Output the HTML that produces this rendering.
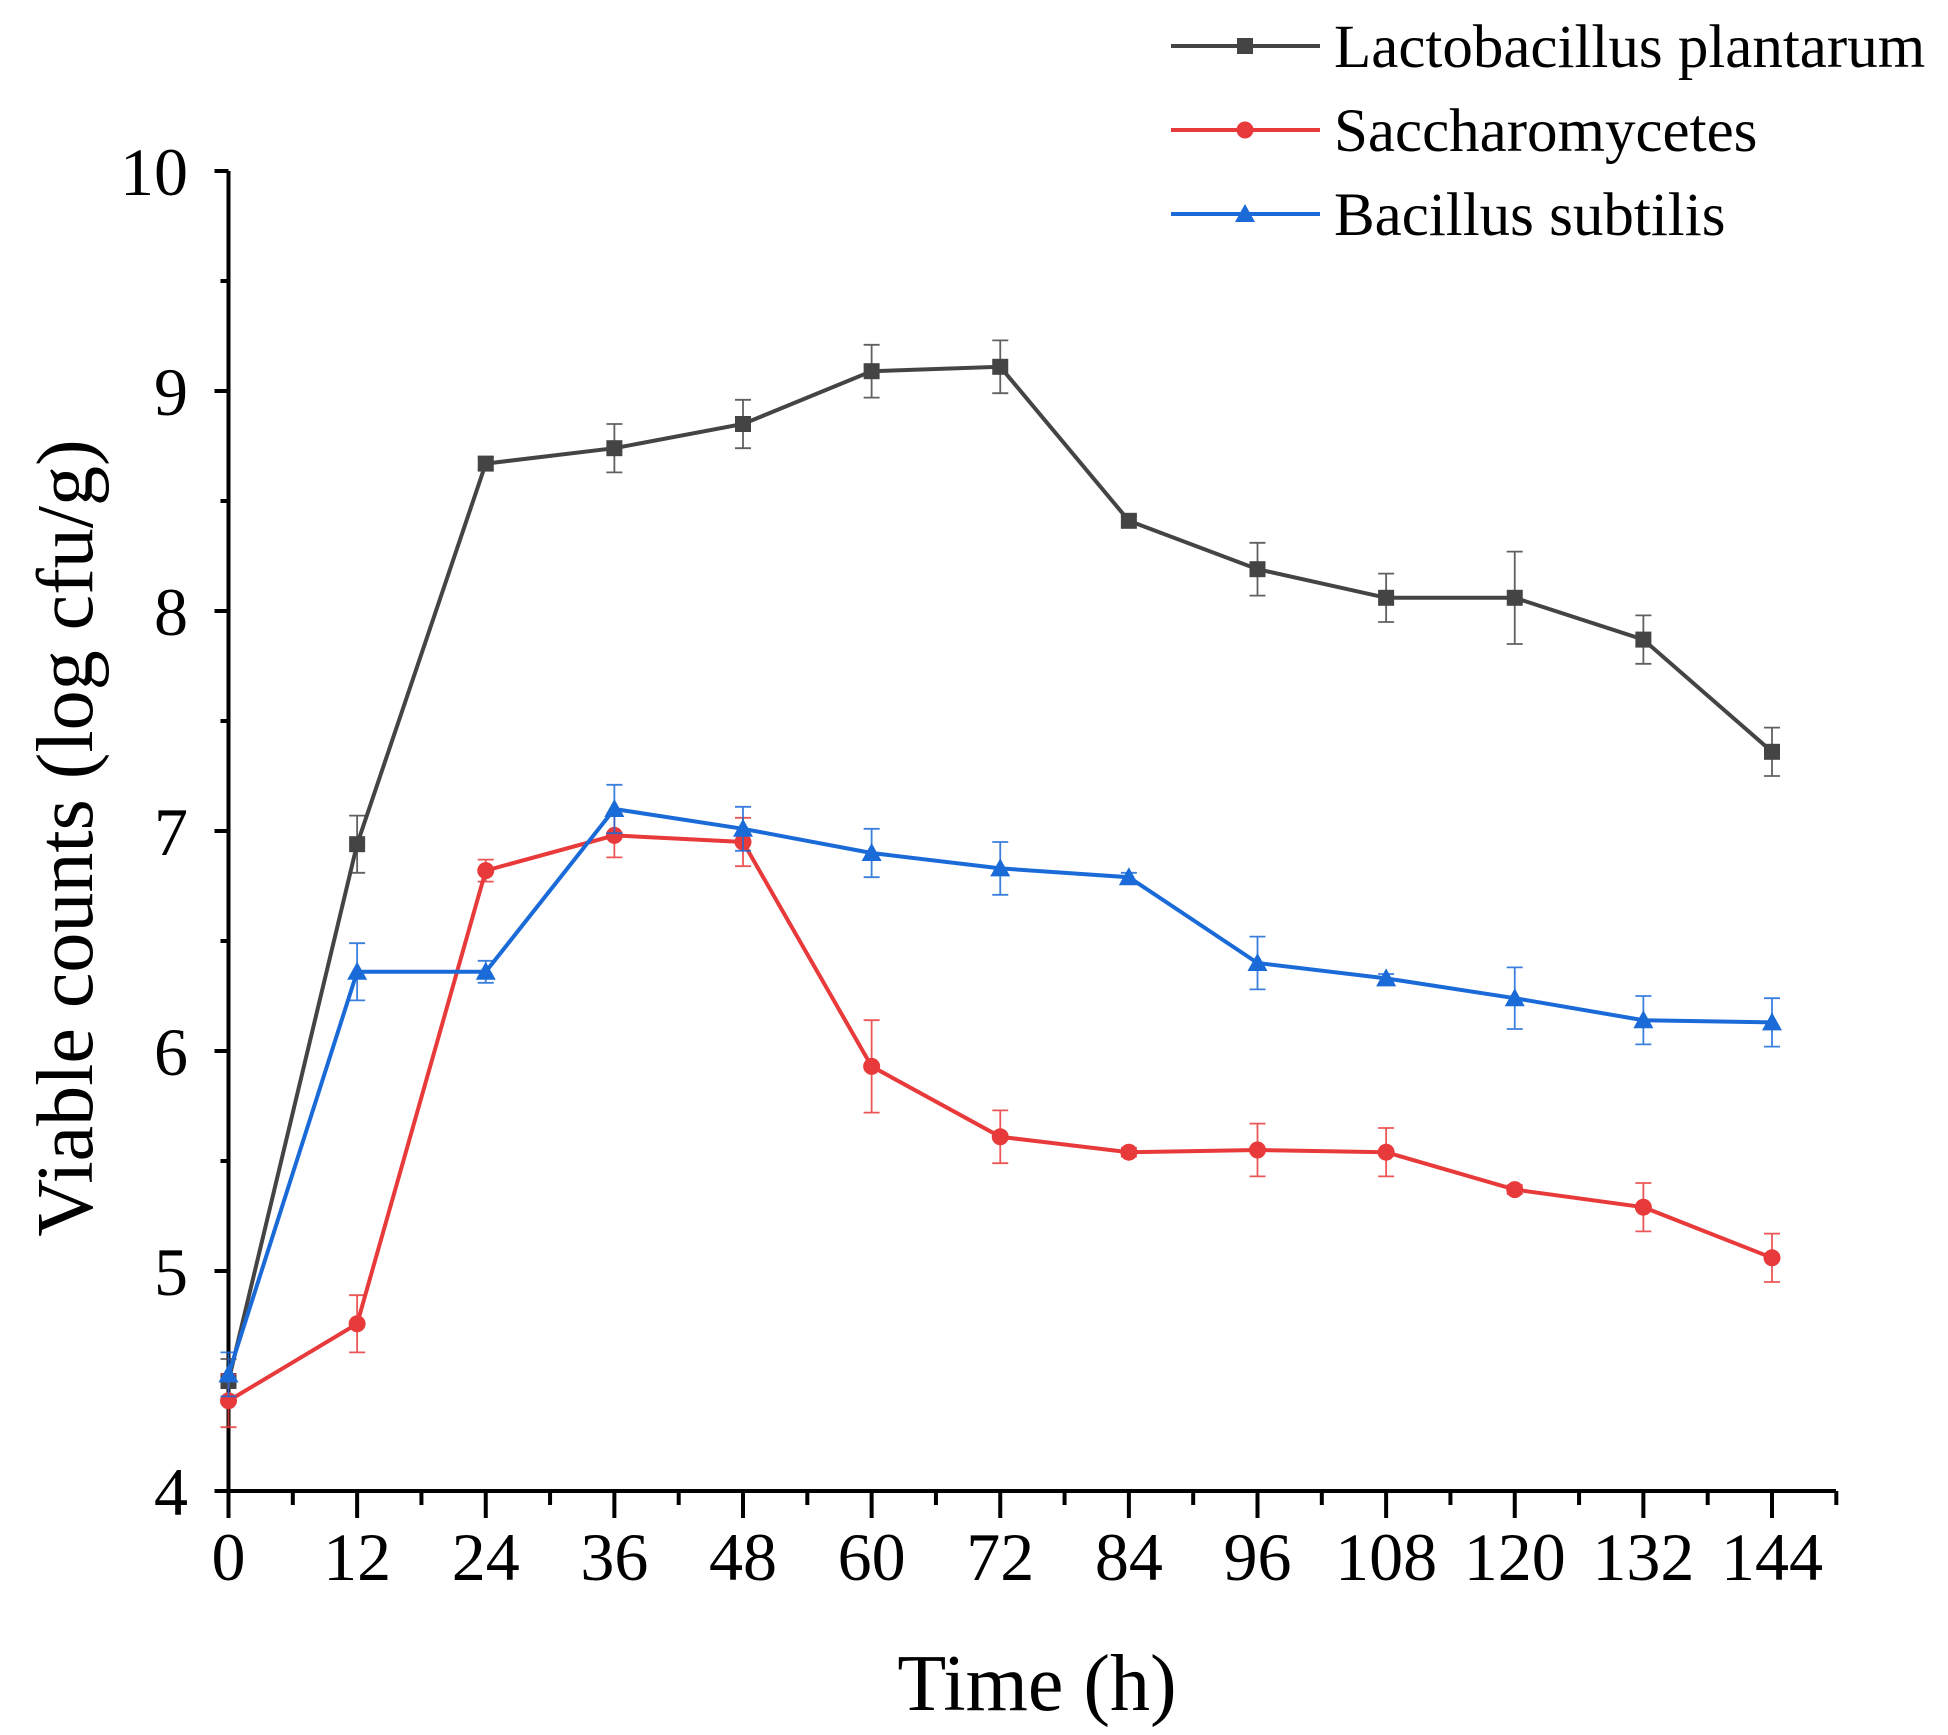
<!DOCTYPE html>
<html><head><meta charset="utf-8"><style>
html,body{margin:0;padding:0;background:#fff;}
svg{display:block;font-family:"Liberation Serif",serif;}
</style></head><body>
<svg id="chart" width="1948" height="1735" viewBox="0 0 1948 1735" xmlns="http://www.w3.org/2000/svg">
<g id="axes"></g>
<g id="series"></g>
<g id="legend"></g>
<text transform="translate(92,838) rotate(-90)" text-anchor="middle" font-size="80">Viable counts (log cfu/g)</text>
<text x="1037" y="1710" text-anchor="middle" font-size="80">Time (h)</text>
</svg>
<script>
const times = [0,12,24,36,48,60,72,84,96,108,120,132,144];
const lactoValues = [4.5,6.94,8.67,8.74,8.85,9.09,9.11,8.41,8.19,8.06,8.06,7.87,7.36];
const lactoErrors = [0.1,0.13,0.03,0.11,0.11,0.12,0.12,0.02,0.12,0.11,0.21,0.11,0.11];
const sacchValues = [4.41,4.76,6.82,6.98,6.95,5.93,5.61,5.54,5.55,5.54,5.37,5.29,5.06];
const sacchErrors = [0.12,0.13,0.05,0.1,0.11,0.21,0.12,0.02,0.12,0.11,0.02,0.11,0.11];
const bacValues = [4.53,6.36,6.36,7.1,7.01,6.9,6.83,6.79,6.4,6.33,6.24,6.14,6.13];
const bacErrors = [0.1,0.13,0.05,0.11,0.1,0.11,0.12,0.02,0.12,0.02,0.14,0.11,0.11];
const xTicks = [0,12,24,36,48,60,72,84,96,108,120,132,144];
const yTicks = [4,5,6,7,8,9,10];
const seriesNames = ["Lactobacillus plantarum","Saccharomycetes","Bacillus subtilis"];

const NS="http://www.w3.org/2000/svg";
const X0=228.5, X1=1772, Y4=1491, Y10=171;
const xs=v=>X0+(v/144)*(X1-X0);
const ys=v=>Y4-(v-4)/6*(Y4-Y10);
function mk(tag,attrs,parent){const e=document.createElementNS(NS,tag);for(const k in attrs)e.setAttribute(k,attrs[k]);parent.appendChild(e);return e;}
const axes=document.getElementById('axes');
const ax=mk('line',{x1:X0,y1:Y10,x2:X0,y2:Y4,stroke:'#000','stroke-width':4},axes);


const bx=mk('line',{x1:X0-3,y1:Y4,x2:1836,y2:Y4,stroke:'#000','stroke-width':4},axes);


yTicks.forEach(v=>{
  const t=mk('line',{x1:X0-14,y1:ys(v),x2:X0,y2:ys(v),stroke:'#000','stroke-width':4},axes);
  
  
  if(v<10){const m=mk('line',{x1:X0-8,y1:ys(v+0.5),x2:X0,y2:ys(v+0.5),stroke:'#000','stroke-width':4},axes);
  
  }
  const l=mk('text',{x:188,y:ys(v)+24,'text-anchor':'end','font-size':68},axes);
  l.textContent=v;
  
  
});
xTicks.forEach(v=>{
  const t=mk('line',{x1:xs(v),y1:Y4,x2:xs(v),y2:Y4+27,stroke:'#000','stroke-width':4},axes);
  
  
  const m=mk('line',{x1:xs(v+6),y1:Y4,x2:xs(v+6),y2:Y4+14,stroke:'#000','stroke-width':4},axes);
  
  
  const l=mk('text',{x:xs(v),y:1580,'text-anchor':'middle','font-size':68},axes);
  l.textContent=v;
  
  
});
function marker(shape,cx,cy,color,parent){
  let e;
  if(shape==='square') e=mk('rect',{x:cx-8,y:cy-8,width:16,height:16,fill:color},parent);
  else if(shape==='circle') e=mk('circle',{cx:cx,cy:cy,r:8.5,fill:color},parent);
  else e=mk('polygon',{points:`${cx},${cy-10} ${cx+10},${cy+8} ${cx-10},${cy+8}`,fill:color},parent);
  return e;
}
const defs=[[lactoValues,lactoErrors,'#444','square','lactobacillus'],[sacchValues,sacchErrors,'#e83a3a','circle','saccharomycetes'],[bacValues,bacErrors,'#1a6ad8','triangle','bacillus']];
const sg=document.getElementById('series');
defs.forEach(([vals,errs,col,shape,nm])=>{
  const g=mk('g',{},sg);
  
  
  vals.forEach((v,i)=>{
    const x=xs(times[i]),a=ys(v+errs[i]),b=ys(v-errs[i]);
    const e=mk('path',{d:`M${x},${a}V${b}M${x-8},${a}H${x+8}M${x-8},${b}H${x+8}`,stroke:col,'stroke-width':1.8,fill:'none',opacity:0.85},g);
    
    
  });
  const ln=mk('polyline',{points:vals.map((v,i)=>xs(times[i])+','+ys(v)).join(' '),fill:'none',stroke:col,'stroke-width':4},g);
  
  
  vals.forEach((v,i)=>{
    const m=marker(shape,xs(times[i]),ys(v),col,g);
    
    
  });
});
const lg=document.getElementById('legend');
defs.forEach((d,i)=>{
  const y=46+i*84;
  const g=mk('g',{},lg);
  
  
  mk('line',{x1:1171,y1:y,x2:1320,y2:y,stroke:d[2],'stroke-width':4},g);
  marker(d[3],1245,y,d[2],g);
  const t=mk('text',{x:1334,y:y+21,'font-size':61},g);
  t.textContent=seriesNames[i];
});
</script>
</body></html>
